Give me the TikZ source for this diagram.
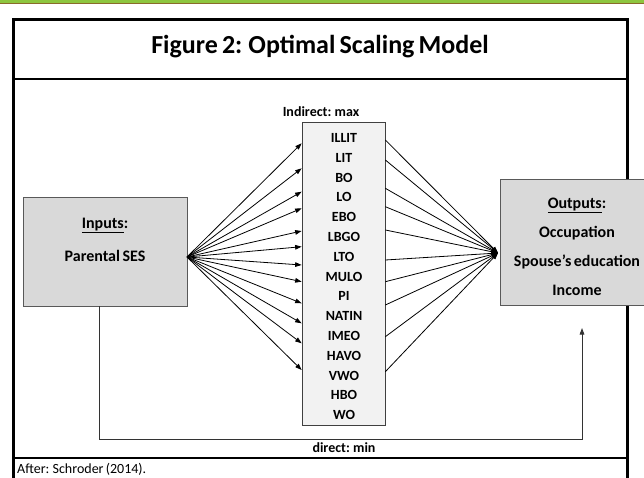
\documentclass[tikz,border=0pt]{standalone}
\usepackage{fontspec}
\setmainfont{Carlito}[WordSpace=0.7]
\usetikzlibrary{arrows.meta}
\definecolor{boxgray}{HTML}{D9D9D9}
\definecolor{midgray}{HTML}{F2F2F2}
\definecolor{barGreen}{HTML}{8DC63F}
\definecolor{barLine}{HTML}{8A6A2A}
\begin{document}
\begin{tikzpicture}[x=1pt,y=-1pt,
  tipped/.style={-{Triangle[length=6.5pt,width=4.6pt]}},
  fan/.style={line width=0.8pt, black, tipped},
  plainfan/.style={line width=0.8pt, black, tipped},
  graybox/.style={draw=black!65, line width=0.7pt, fill=boxgray, inner sep=0pt},
  midbox/.style={draw=black!75, line width=0.7pt, fill=midgray, inner sep=0pt},
  boxlabel/.style={font=\bfseries\fontsize{16}{18}\selectfont, anchor=base, inner sep=0pt},
  itemlabel/.style={font=\bfseries\fontsize{14}{16}\selectfont, anchor=base, inner sep=0pt},
  frameline/.style={line width=3pt, black},
  divline/.style={line width=2.5pt, black}]
\useasboundingbox (0,0) rectangle (644,478);
% top green bar
\fill[barGreen] (0,0) rectangle (644,3.3);
\fill[barLine] (0,3.3) rectangle (644,4.3);
% frame
\draw[frameline] (13.5,480) -- (13.5,19.5) -- (627.5,19.5) -- (627.5,480);
\draw[divline] (13.5,79) -- (627.5,79);
\draw[divline] (13.5,458) -- (627.5,458);
% title
\node[font=\bfseries\fontsize{26}{30}\selectfont, anchor=base, inner sep=0pt] (title) at (320,54) {Figure 2: Optimal Scaling Model};
% boxes
\node[graybox, minimum width=164pt, minimum height=109pt] (inputs) at (105,251.5) {};
\node[graybox, minimum width=154pt, minimum height=126pt] (outputs) at (577,242) {};
\node[midbox, minimum width=83pt, minimum height=303pt] (mid) at (343.5,273.5) {};
% box texts
\node[boxlabel] (inlab) at (105,228) {\underline{Inputs}:};
\node[boxlabel] (inses) at (105,261) {Parental SES};
\node[boxlabel] (outlab) at (577,208) {\underline{Outputs}:};
\node[boxlabel] (occ) at (577,237) {Occupation};
\node[boxlabel] (spouse) at (577,266) {Spouse’s education};
\node[boxlabel] (inc) at (577,295) {Income};
\node[itemlabel] (indirect) at (321,117) {Indirect: max};
\node[itemlabel] (direct) at (344,452) {direct: min};
% items
\foreach \t [count=\i from 0] in {ILLIT,LIT,BO,LO,EBO,LBGO,LTO,MULO,PI,NATIN,IMEO,HAVO,VWO,HBO,WO}{
  \node[itemlabel] (item\i) at (344,{142.5+19.8*\i}) {\t};
}
% footer
\node[font=\fontsize{14}{16}\selectfont, anchor=base west, inner sep=0pt] (footer) at (17,473) {After: Schroder (2014).};
% fan from inputs
\coordinate (src) at (187,257);
\foreach \yy [count=\k] in {143.3,168.3,191.7,208.3,231,246.7,265,281.7,303.3,323.3,343.3,370}{
  \coordinate (lin\k) at (mid.west |- 0,\yy);
  \draw[fan] (src) -- (lin\k);
}
% fan to outputs
\coordinate (dst) at (498,253);
\foreach \yy [count=\k] in {140,160,188.3,206.7,230,260,281.7,305,336.7,371.7}{
  \coordinate (rout\k) at (mid.east |- 0,\yy);
  \draw[plainfan] (rout\k) -- (dst);
}
% direct path
\coordinate (dA) at (inputs.south -| 99,0);
\coordinate (dB) at (99,439);
\coordinate (dC) at (582,439);
\coordinate (dD) at (582,328);
\draw[line width=0.9pt, black!80, tipped] (dA) -- (dB) -- (dC) -- (dD);
\end{tikzpicture}
\end{document}
